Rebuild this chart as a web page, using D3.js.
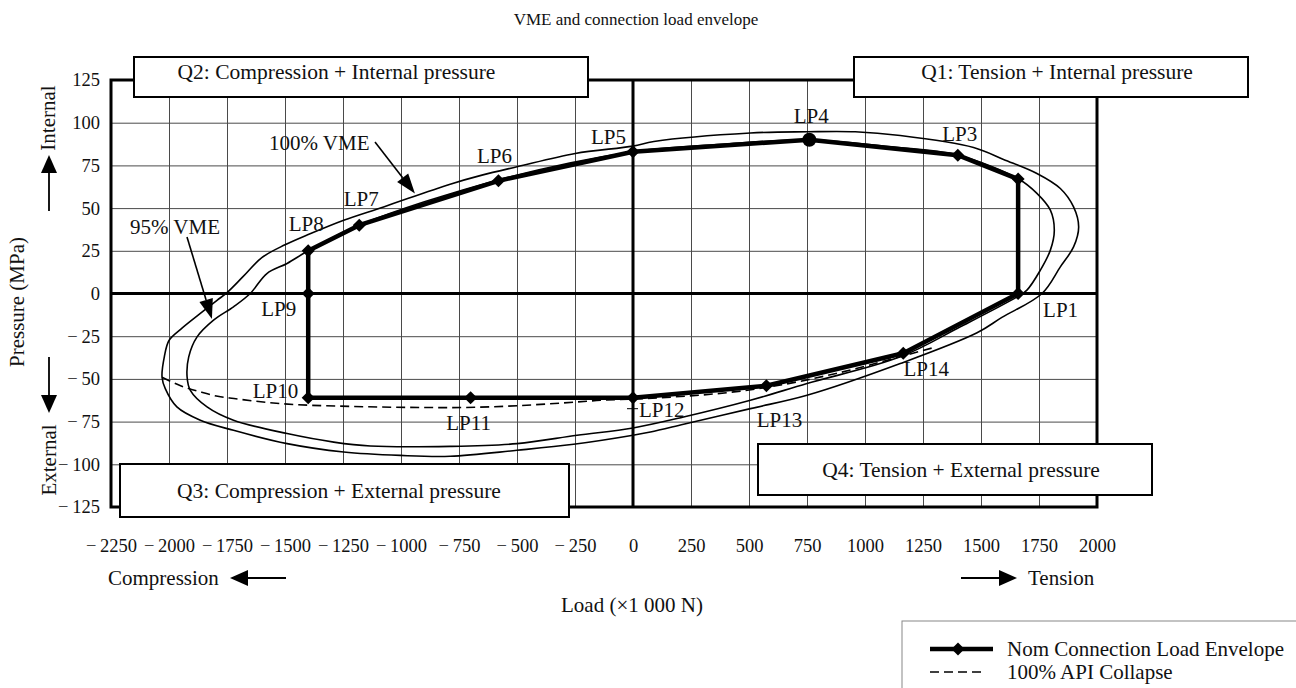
<!DOCTYPE html>
<html>
<head>
<meta charset="utf-8">
<script src="https://cdn.jsdelivr.net/npm/d3@7"></script>
<style>
  html, body { margin: 0; padding: 0; background: #fff; }
  svg { display: block; font-family: "Liberation Serif", "Times New Roman", serif; }
</style>
</head>
<body>
<svg id="chart" width="1296" height="688"></svg>
<script>
// ---- data -------------------------------------------------------------
const loadTicks = [-2250, -2000, -1750, -1500, -1250, -1000, -750, -500, -250, 0, 250, 500, 750, 1000, 1250, 1500, 1750, 2000];
const pressureTicks = [-125, -100, -75, -50, -25, 0, 25, 50, 75, 100, 125];

// Nominal connection load envelope (load kN, pressure MPa), LP1 .. LP14
const lpNames    = ["LP1", "LP2", "LP3", "LP4", "LP5", "LP6", "LP7", "LP8", "LP9", "LP10", "LP11", "LP12", "LP13", "LP14"];
const lpLoad     = [1660, 1660, 1400, 760, 0, -580, -1180, -1400, -1400, -1400, -700, 0, 575, 1165];
const lpPressure = [0, 67, 81, 90, 83, 66, 40, 25, 0, -61, -61, -61, -54, -35];

// 100% VME envelope, traced clockwise from its left extreme
const vme100Load = [-2030, -2020, -2000, -1950, -1865, -1793, -1750, -1680, -1600, -1500, -1400, -1247, -1075, -788, -651, -500, -249, 0, 90, 506, 750, 958, 1152, 1468, 1597, 1741, 1842, 1899, 1921, 1899, 1842, 1763, 1590, 1483, 1152, 750, 506, 218, 75, 0, -256, -500, -788, -1003, -1247, -1491, -1722, -1865, -1966, -2016];
const vme100Pressure = [-49, -37, -27.5, -21, -11.7, -4, 0.5, 10, 21, 28.5, 34.5, 42.9, 50.7, 64, 69.3, 74.2, 82, 86.3, 89, 94, 94.7, 94.7, 92.5, 85.5, 78.5, 70.3, 61.5, 50.7, 39, 27.3, 15.6, 0, -14, -23, -41, -59.6, -67.4, -76.6, -81.1, -83, -88.3, -91.8, -95.3, -94.8, -92.8, -87.9, -80.1, -74.2, -66.4, -55.7];

// 95% VME envelope, traced clockwise from its left extreme
const vme95Load = [-1922, -1915, -1879, -1808, -1722, -1650, -1578, -1491, -1400, -1180, -580, 0, 400, 760, 1100, 1400, 1662, 1741, 1799, 1816, 1799, 1756, 1698, 1655, 1411, 1152, 750, 506, 218, 0, -241, -500, -788, -1132, -1290, -1491, -1722, -1836, -1908];
const vme95Pressure = [-48.9, -37.1, -25.4, -15.6, -7.8, 0, 11.7, 17.6, 25, 40, 66.5, 83, 87.5, 90, 86, 81, 67, 58.6, 48.8, 37.1, 25.4, 13.7, 2, -2, -19.5, -37.1, -52.7, -62.5, -72.3, -78.7, -83, -87.9, -89.5, -89.3, -87, -82, -74.2, -66.4, -56.7];

// 100% API collapse line
const apiLoad     = [-2030, -1950, -1865, -1790, -1720, -1400, -790, -240, -140, 0, 575, 870, 1165, 1300];
const apiPressure = [-49, -54, -57.6, -60.2, -61.5, -65.4, -66.8, -63.5, -62.5, -61.8, -55, -47, -36.5, -31.5];

const quadrantLabels = [
  "Q1: Tension + Internal pressure",
  "Q2: Compression + Internal pressure",
  "Q3: Compression + External pressure",
  "Q4: Tension + External pressure"
];
const legendLabels = ["Nom Connection Load Envelope", "100% API Collapse"];

// ---- layout -----------------------------------------------------------
const svg = d3.select("#chart");
const plotL = 111, plotR = 1097, plotT = 80, plotB = 507;
const x = d3.scaleLinear().domain([-2250, 2000]).range([plotL, plotR]);
const y = d3.scaleLinear().domain([-125, 125]).range([plotB, plotT]);
const fmt = v => v < 0 ? "\u2212\u2009" + Math.abs(v) : String(v);

// grid + tick labels
const gx = svg.append("g")
  .attr("transform", `translate(0,${plotB})`)
  .call(d3.axisBottom(x).tickValues(loadTicks).tickSize(-(plotB - plotT)).tickPadding(32).tickFormat(fmt));
const gy = svg.append("g")
  .attr("transform", `translate(${plotL},0)`)
  .call(d3.axisLeft(y).tickValues(pressureTicks).tickSize(-(plotR - plotL)).tickPadding(11).tickFormat(fmt));
[gx, gy].forEach(g => {
  g.select(".domain").remove();
  g.selectAll("line").attr("stroke", "#4a4a4a").attr("stroke-width", 1);
  g.selectAll("text").attr("font-family", "Liberation Serif, serif").attr("font-size", 18.5).attr("fill", "#111");
});

// frame and zero lines
svg.append("rect").attr("x", plotL).attr("y", plotT).attr("width", plotR - plotL).attr("height", plotB - plotT)
  .attr("fill", "none").attr("stroke", "#000").attr("stroke-width", 3);
svg.append("line").attr("x1", x(0)).attr("x2", x(0)).attr("y1", plotT).attr("y2", plotB)
  .attr("stroke", "#000").attr("stroke-width", 3);
svg.append("line").attr("x1", plotL).attr("x2", plotR).attr("y1", y(0)).attr("y2", y(0))
  .attr("stroke", "#000").attr("stroke-width", 3);

// VME envelopes
const closedCurve = d3.line().x(d => x(d[0])).y(d => y(d[1])).curve(d3.curveCatmullRomClosed.alpha(0.5));
svg.append("path").attr("d", closedCurve(d3.zip(vme100Load, vme100Pressure)))
  .attr("fill", "none").attr("stroke", "#000").attr("stroke-width", 1.6);
svg.append("path").attr("d", closedCurve(d3.zip(vme95Load, vme95Pressure)))
  .attr("fill", "none").attr("stroke", "#000").attr("stroke-width", 1.6);

// API collapse
const openCurve = d3.line().x(d => x(d[0])).y(d => y(d[1])).curve(d3.curveMonotoneX);
svg.append("path").attr("d", openCurve(d3.zip(apiLoad, apiPressure)))
  .attr("fill", "none").attr("stroke", "#000").attr("stroke-width", 1.6).attr("stroke-dasharray", "9,5");

// nominal load envelope
const lp = d3.zip(lpLoad, lpPressure);
const straight = d3.line().x(d => x(d[0])).y(d => y(d[1]));
svg.append("path").attr("d", straight(lp.concat([lp[0]])))
  .attr("fill", "none").attr("stroke", "#000").attr("stroke-width", 4.5).attr("stroke-linejoin", "round");
const diamond = d3.symbol(d3.symbolSquare, 85);
lp.forEach((d, i) => {
  if (lpNames[i] === "LP4") {
    svg.append("circle").attr("cx", x(d[0])).attr("cy", y(d[1])).attr("r", 7).attr("fill", "#000");
  } else {
    svg.append("path").attr("d", diamond())
      .attr("transform", `translate(${x(d[0])},${y(d[1])}) rotate(45)`).attr("fill", "#000");
  }
});

// point labels: [dx, dy, anchor] relative to each point; LP2 is left unlabelled
const labelPlace = {
  LP1: [25, 23, "start"], LP3: [2, -14, "middle"], LP4: [2, -17, "middle"], LP5: [-7, -8, "end"],
  LP6: [-4, -18, "middle"], LP7: [2, -19, "middle"], LP8: [-2, -20, "middle"], LP9: [-12, 22, "end"],
  LP10: [-10, 0, "end"], LP11: [-2, 32, "middle"], LP12: [6, 19, "start"], LP13: [13, 41, "middle"],
  LP14: [23, 23, "middle"]
};
lp.forEach((d, i) => {
  const p = labelPlace[lpNames[i]];
  if (!p) return;
  svg.append("text").attr("x", x(d[0]) + p[0]).attr("y", y(d[1]) + p[1])
    .attr("text-anchor", p[2]).attr("font-size", 21).attr("fill", "#111").text(lpNames[i]);
});
// short leader next to LP12
svg.append("line").attr("x1", x(0) - 6).attr("x2", x(0) + 5).attr("y1", y(-61) + 11).attr("y2", y(-61) + 11)
  .attr("stroke", "#000").attr("stroke-width", 1);

// arrow helper: shaft from (x1,y1) to tip (x2,y2) with a filled head
function arrow(x1, y1, x2, y2, len, half, w) {
  const a = Math.atan2(y2 - y1, x2 - x1);
  const bx = x2 - len * Math.cos(a), by = y2 - len * Math.sin(a);
  svg.append("line").attr("x1", x1).attr("y1", y1).attr("x2", bx).attr("y2", by)
    .attr("stroke", "#000").attr("stroke-width", w || 1.6);
  const px = -Math.sin(a) * half, py = Math.cos(a) * half;
  svg.append("path").attr("d", `M${x2},${y2}L${bx + px},${by + py}L${bx - px},${by - py}Z`).attr("fill", "#000");
}

// curve callouts
svg.append("text").attr("x", 269).attr("y", 150).attr("font-size", 21).attr("fill", "#111").text("100% VME");
arrow(375, 142, x(-940), y(58.5), 20, 7);
svg.append("text").attr("x", 130).attr("y", 234).attr("font-size", 21).attr("fill", "#111").text("95% VME");
arrow(187, 237, x(-1815), y(-15), 20, 7);

// quadrant boxes
const boxes = [
  [854, 57, 1248, 97, 1057, 79],
  [134, 57, 588, 97, 336.5, 79],
  [120, 464, 569, 517, 339, 498],
  [758, 444, 1152, 495, 961, 477]
];
boxes.forEach((b, i) => {
  svg.append("rect").attr("x", b[0]).attr("y", b[1]).attr("width", b[2] - b[0]).attr("height", b[3] - b[1])
    .attr("fill", "#fff").attr("stroke", "#000").attr("stroke-width", 2);
  svg.append("text").attr("x", b[4]).attr("y", b[5]).attr("text-anchor", "middle")
    .attr("font-size", 21.5).attr("fill", "#111").text(quadrantLabels[i]);
});

// titles
svg.append("text").attr("x", 636).attr("y", 25).attr("text-anchor", "middle")
  .attr("font-size", 17).attr("fill", "#111").text("VME and connection load envelope");
svg.append("text").attr("x", 632).attr("y", 612).attr("text-anchor", "middle")
  .attr("font-size", 21).attr("fill", "#111").text("Load (\u00d71 000 N)");
svg.append("text").attr("transform", "translate(24,302) rotate(-90)").attr("text-anchor", "middle")
  .attr("font-size", 21).attr("fill", "#111").text("Pressure (MPa)");

// direction hints
svg.append("text").attr("transform", "translate(55,118) rotate(-90)").attr("text-anchor", "middle")
  .attr("font-size", 21).attr("fill", "#111").text("Internal");
arrow(49, 211, 49, 155, 18, 8, 1.8);
svg.append("text").attr("transform", "translate(56,460) rotate(-90)").attr("text-anchor", "middle")
  .attr("font-size", 21).attr("fill", "#111").text("External");
arrow(49, 357, 49, 413, 18, 8, 1.8);
svg.append("text").attr("x", 108).attr("y", 585).attr("font-size", 21).attr("fill", "#111").text("Compression");
arrow(286, 578, 230, 578, 18, 8, 1.8);
arrow(961, 578, 1017, 578, 18, 8, 1.8);
svg.append("text").attr("x", 1028).attr("y", 585).attr("font-size", 21).attr("fill", "#111").text("Tension");

// legend
const lg = svg.append("g");
lg.append("rect").attr("x", 902).attr("y", 621).attr("width", 420).attr("height", 100)
  .attr("fill", "#fff").attr("stroke", "#888").attr("stroke-width", 1);
lg.append("line").attr("x1", 930).attr("x2", 993).attr("y1", 649).attr("y2", 649)
  .attr("stroke", "#000").attr("stroke-width", 4.5);
lg.append("path").attr("d", diamond()).attr("transform", "translate(958,649) rotate(45)").attr("fill", "#000");
lg.append("line").attr("x1", 930).attr("x2", 984).attr("y1", 672).attr("y2", 672)
  .attr("stroke", "#000").attr("stroke-width", 1.6).attr("stroke-dasharray", "9,5");
legendLabels.forEach((t, i) => {
  lg.append("text").attr("x", 1007).attr("y", 656 + i * 23).attr("font-size", 21).attr("fill", "#111").text(t);
});
</script>
</body>
</html>
